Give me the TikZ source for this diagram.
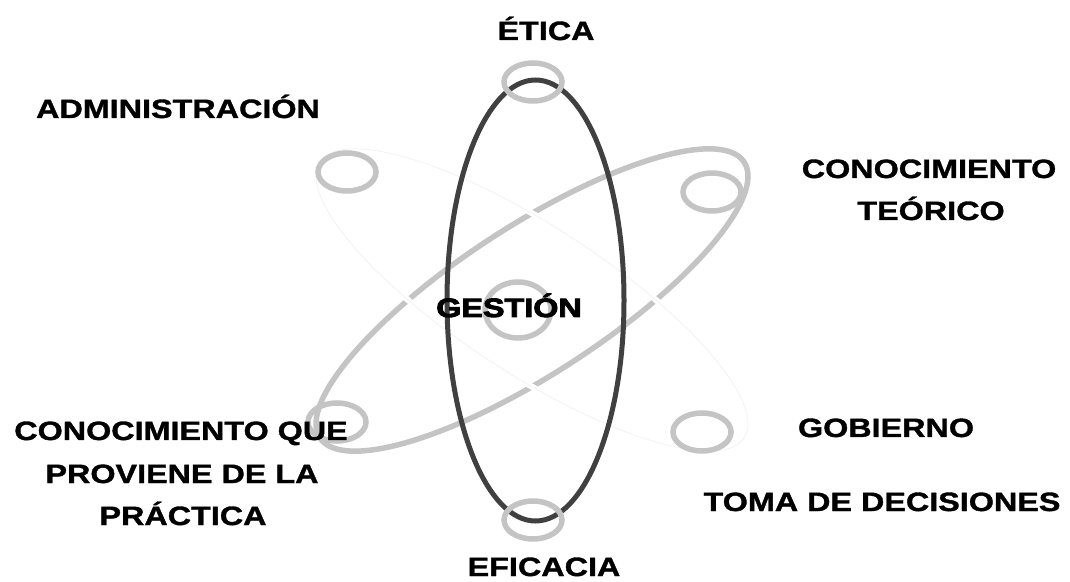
\documentclass[tikz,border=0pt]{standalone}
\usepackage{fontspec}
\newfontfamily\lbl{Liberation Sans Bold}[FakeStretch=1.22,FakeBold=1.3]
\newfontfamily\heavy{Liberation Sans Bold}[FakeStretch=1.22,FakeBold=3.5]
\definecolor{darkring}{HTML}{404040}
\definecolor{grayring}{HTML}{C4C4C4}
\definecolor{faint}{HTML}{F1F1F1}
\begin{document}
\begin{tikzpicture}[x=1pt,y=1pt,
  label/.style={anchor=base,inner sep=0pt,font=\lbl\fontsize{26.5}{30}\selectfont,text=black},
  ring/.style={draw=grayring,line width=5.5pt},
  orbit/.style={draw=grayring,line width=5.5pt},
  faintorbit/.style={draw=faint,line width=0.7pt,preaction={draw=white,line width=6pt}},
  mainorbit/.style={draw=darkring,line width=5pt}]
\useasboundingbox[fill=white] (0,0) rectangle (1070,581);
% orbits
\coordinate (c) at (532,281);
\draw[orbit] (c) ellipse [x radius=253,y radius=74,rotate=33];
\draw[faintorbit] (c) ellipse [x radius=253,y radius=74,rotate=-33];
\draw[mainorbit] (535.5,280.5) ellipse [x radius=88.5,y radius=220.5];
% rings
\draw[ring] (533,499) ellipse [x radius=29,y radius=19];
\draw[ring] (533,61) ellipse [x radius=29,y radius=19];
\draw[ring] (347,409) ellipse [x radius=29,y radius=19];
\draw[ring] (712,389) ellipse [x radius=29,y radius=19];
\draw[ring] (518,271) ellipse [x radius=33,y radius=28];
\draw[ring] (337,159) ellipse [x radius=29,y radius=19];
\draw[ring] (702,149) ellipse [x radius=29,y radius=19];
% labels
\node[label] (etica) at (546,541) {ÉTICA};
\node[label] (admin) at (178,463) {ADMINISTRACIÓN};
\node[label] (ct1) at (929,403) {CONOCIMIENTO};
\node[label] (ct2) at (931,361) {TEÓRICO};
\node[label,font=\heavy\fontsize{26.5}{30}\selectfont] (gestion) at (509,264) {GESTIÓN};
\node[label] (cp1) at (181,141) {CONOCIMIENTO QUE};
\node[label] (cp2) at (182,98) {PROVIENE DE LA};
\node[label] (cp3) at (183,56) {PRÁCTICA};
\node[label] (gob) at (886,144) {GOBIERNO};
\node[label] (toma) at (882,70) {TOMA DE DECISIONES};
\node[label] (eficacia) at (544,5) {EFICACIA};
\end{tikzpicture}
\end{document}
